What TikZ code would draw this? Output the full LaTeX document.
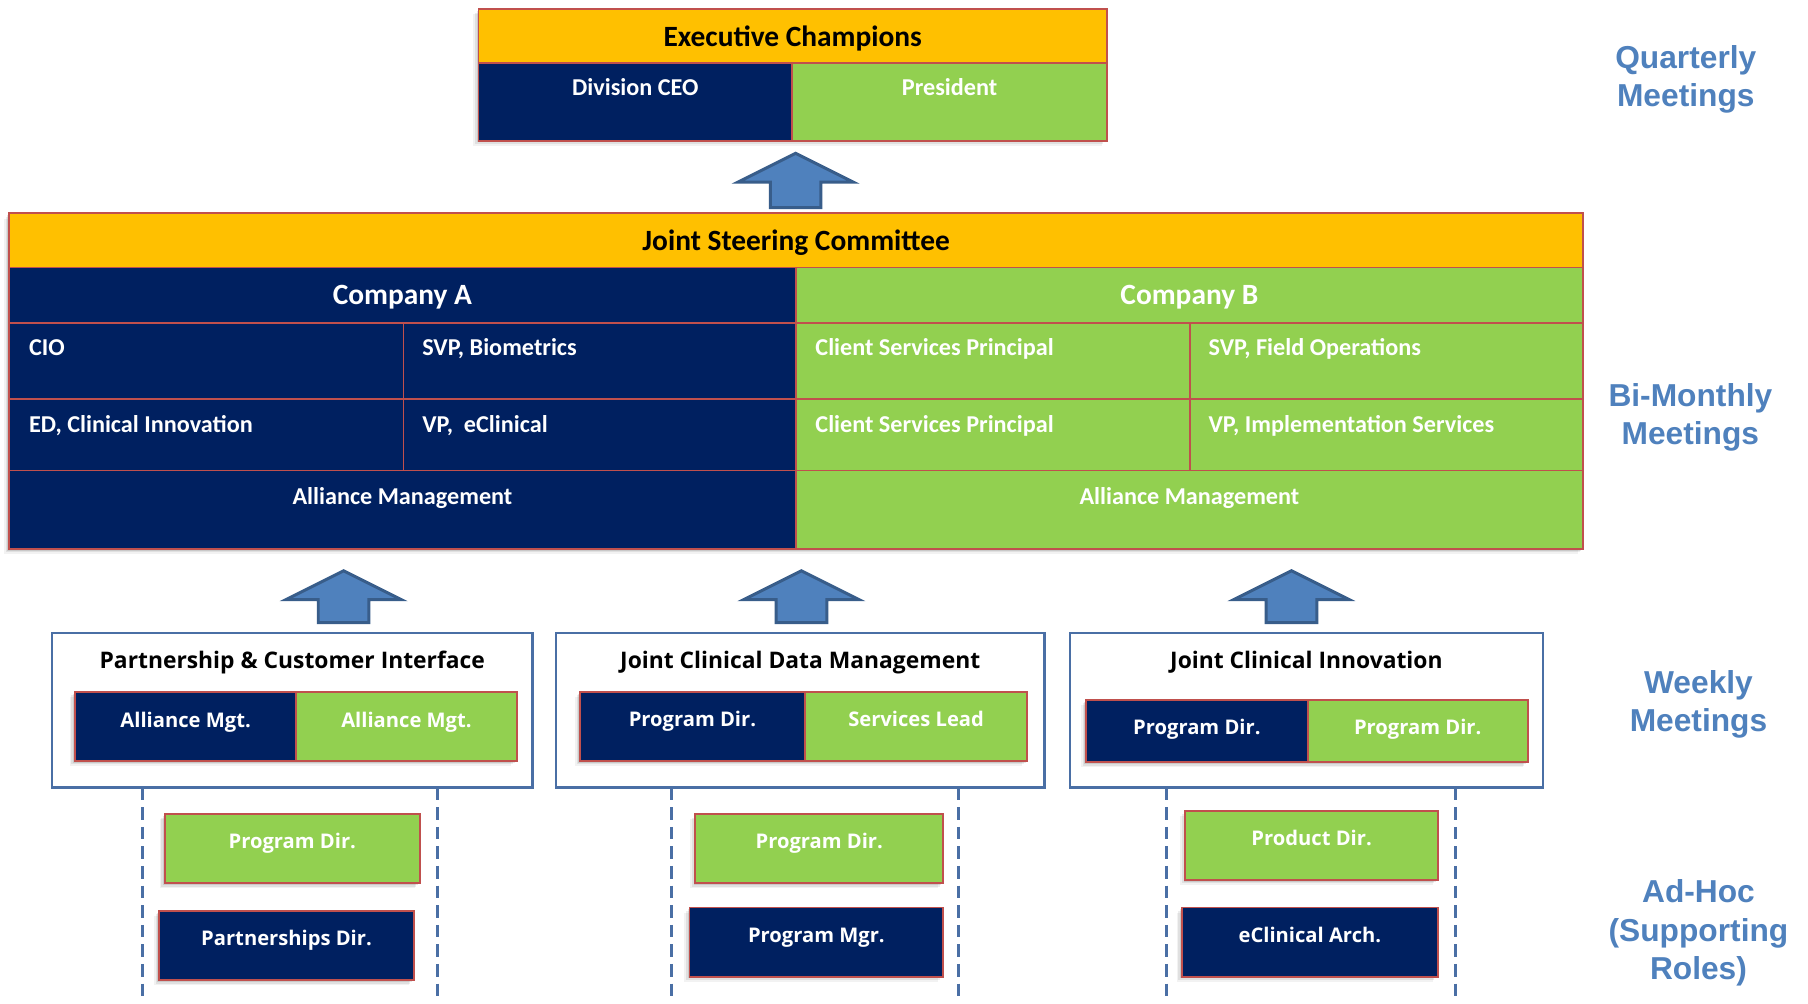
\documentclass[tikz,border=0pt]{standalone}
\usepackage{fontspec}
\usetikzlibrary{calc}
\newfontfamily\calfont{Carlito}
\newfontfamily\segfont{Open Sans}
\newfontfamily\arfont{Liberation Sans}
\definecolor{navy}{HTML}{002060}
\definecolor{lgreen}{HTML}{92D050}
\definecolor{gold}{HTML}{FFC000}
\definecolor{cellred}{HTML}{C0504D}
\definecolor{arrfill}{HTML}{4F81BD}
\definecolor{arrline}{HTML}{385D8A}
\definecolor{wkline}{HTML}{4A6FA5}
\definecolor{lblue}{HTML}{4F81BD}
\newcommand\mkcell[6]{\node[#6, anchor=north west, minimum width={(#4)-(#2)}, minimum height={(#5)-(#3)}] (#1) at (#2,#3) {};}
\newcommand\softshadow[4]{\foreach \o/\op in {1.5/0.10,3/0.07,4.5/0.05}{\fill[black,opacity=\op] ({#1-\o},{#2+\o}) rectangle ({#3-\o},{#4+\o});}}
\newcommand\uparr[5]{\draw[arrowshape] (#2,#3) -- ({#2+50},#4) -- ({#2+22},#4) -- ({#2+22},#5) -- ({#2-22},#5) -- ({#2-22},#4) -- ({#2-50},#4) -- cycle;}
\tikzset{
  base/.style={draw=cellred, line width=1.6pt, inner sep=0pt, outer sep=0pt},
  goldcell/.style={base, fill=gold},
  navycell/.style={base, fill=navy},
  greencell/.style={base, fill=lgreen},
  wkbox/.style={draw=wkline, line width=2.2pt, fill=white, inner sep=0pt, outer sep=0pt},
  hdtext/.style={font=\calfont\bfseries\fontsize{25.5}{30}\selectfont, text=black, inner sep=0pt},
  cotext/.style={font=\calfont\bfseries\fontsize{25.5}{30}\selectfont, text=white, inner sep=0pt},
  cltext/.style={font=\calfont\bfseries\fontsize{21}{25}\selectfont, text=white, inner sep=0pt},
  wktitle/.style={font=\segfont\bfseries\fontsize{19.8}{23}\selectfont, text=black, inner sep=0pt},
  wktext/.style={font=\segfont\bfseries\fontsize{17.5}{21}\selectfont, text=white, inner sep=0pt},
  sidelabel/.style={font=\arfont\bfseries\fontsize{27.5}{33}\selectfont, text=lblue, align=center, inner sep=0pt},
  arrowshape/.style={fill=arrfill, draw=arrline, line width=2.6pt, line join=miter},
  dashline/.style={draw=wkline, line width=2.6pt, dash pattern=on 11pt off 6pt}
}
\begin{document}
\begin{tikzpicture}[x=1pt,y=-1pt]
\useasboundingbox[fill=white] (0,0) rectangle (1568,870);

% ---------- Executive Champions ----------
\softshadow{415}{8}{960}{122}
\mkcell{exh}{415}{8}{960}{55}{goldcell}
\mkcell{ceo}{415}{55}{687}{122}{navycell}
\mkcell{pres}{687}{55}{960}{122}{greencell}
\node[hdtext, anchor=mid] (exh-t) at ($(exh.center)+(0,7)$) {Executive Champions};
\node[cltext, anchor=mid] (ceo-t) at ($(ceo.north)+(0,26)$) {Division CEO};
\node[cltext, anchor=mid] (pres-t) at ($(pres.north)+(0,26)$) {President};

\uparr{ar1}{690}{133}{158}{180}

% ---------- Joint Steering Committee ----------
\softshadow{8}{185}{1373}{476}
\mkcell{jsc}{8}{185}{1373}{232}{goldcell}
\mkcell{coa}{8}{232}{690}{280}{navycell}
\mkcell{cob}{690}{232}{1373}{280}{greencell}
\mkcell{a11}{8}{280}{350}{346}{navycell}
\mkcell{a12}{350}{280}{690}{346}{navycell}
\mkcell{b11}{690}{280}{1032}{346}{greencell}
\mkcell{b12}{1032}{280}{1373}{346}{greencell}
\mkcell{a21}{8}{346}{350}{408}{navycell}
\mkcell{a22}{350}{346}{690}{408}{navycell}
\mkcell{b21}{690}{346}{1032}{408}{greencell}
\mkcell{b22}{1032}{346}{1373}{408}{greencell}
\mkcell{aam}{8}{408}{690}{476}{navycell}
\mkcell{bam}{690}{408}{1373}{476}{greencell}
\node[hdtext, anchor=mid] (jsc-t) at ($(jsc.center)+(0,7)$) {Joint Steering Committee};
\node[cotext, anchor=mid] (coa-t) at ($(coa.center)+(0,6)$) {Company A};
\node[cotext, anchor=mid] (cob-t) at ($(cob.center)+(0,6)$) {Company B};
\node[cltext, anchor=mid west] (a11-t) at ($(a11.north west)+(17,26)$) {CIO};
\node[cltext, anchor=mid west] (a12-t) at ($(a12.north west)+(16,26)$) {SVP, Biometrics};
\node[cltext, anchor=mid west] (b11-t) at ($(b11.north west)+(17,26)$) {Client Services Principal};
\node[cltext, anchor=mid west] (b12-t) at ($(b12.north west)+(16,26)$) {SVP, Field Operations};
\node[cltext, anchor=mid west] (a21-t) at ($(a21.north west)+(17,27)$) {ED, Clinical Innovation};
\node[cltext, anchor=mid west] (a22-t) at ($(a22.north west)+(16,27)$) {VP,\ \ eClinical};
\node[cltext, anchor=mid west] (b21-t) at ($(b21.north west)+(17,27)$) {Client Services Principal};
\node[cltext, anchor=mid west] (b22-t) at ($(b22.north west)+(16,27)$) {VP, Implementation Services};
\node[cltext, anchor=mid] (aam-t) at ($(aam.north)+(0,27)$) {Alliance Management};
\node[cltext, anchor=mid] (bam-t) at ($(bam.north)+(0,27)$) {Alliance Management};

\uparr{ar2}{298}{495}{520}{540}
\uparr{ar3}{695}{495}{520}{540}
\uparr{ar4}{1120}{495}{520}{540}

% ---------- Weekly groups ----------
\mkcell{wk1}{45}{549}{462}{683}{wkbox}
\mkcell{wk2}{482}{549}{906}{683}{wkbox}
\mkcell{wk3}{928}{549}{1338}{683}{wkbox}
\node[wktitle, anchor=mid] (wk1-t) at ($(wk1.north)+(0,29)$) {Partnership \& Customer Interface};
\node[wktitle, anchor=mid] (wk2-t) at ($(wk2.north)+(0,29)$) {Joint Clinical Data Management};
\node[wktitle, anchor=mid] (wk3-t) at ($(wk3.north)+(0,29)$) {Joint Clinical Innovation};

\softshadow{65}{600}{448}{660}
\mkcell{p1a}{65}{600}{257}{660}{navycell}
\mkcell{p1b}{257}{600}{448}{660}{greencell}
\softshadow{503}{600}{891}{660}
\mkcell{p2a}{503}{600}{698}{660}{navycell}
\mkcell{p2b}{698}{600}{891}{660}{greencell}
\softshadow{942}{607}{1325}{661}
\mkcell{p3a}{942}{607}{1134}{661}{navycell}
\mkcell{p3b}{1134}{607}{1325}{661}{greencell}
\node[wktext, anchor=mid] (p1a-t) at ($(p1a.north)+(0,29)$) {Alliance Mgt.};
\node[wktext, anchor=mid] (p1b-t) at ($(p1b.north)+(0,29)$) {Alliance Mgt.};
\node[wktext, anchor=mid] (p2a-t) at ($(p2a.north)+(0,28)$) {Program Dir.};
\node[wktext, anchor=mid] (p2b-t) at ($(p2b.north)+(0,28)$) {Services Lead};
\node[wktext, anchor=mid] (p3a-t) at ($(p3a.north)+(0,28)$) {Program Dir.};
\node[wktext, anchor=mid] (p3b-t) at ($(p3b.north)+(0,28)$) {Program Dir.};

% ---------- Ad-hoc dashed columns ----------
\coordinate (d1a) at (124,683); \coordinate (d1ae) at (124,870);
\coordinate (d1b) at (379,683); \coordinate (d1be) at (379,870);
\coordinate (d2a) at (582,683); \coordinate (d2ae) at (582,870);
\coordinate (d2b) at (831,683); \coordinate (d2be) at (831,870);
\coordinate (d3a) at (1012,683); \coordinate (d3ae) at (1012,870);
\coordinate (d3b) at (1262,683); \coordinate (d3be) at (1262,870);
\foreach \d in {d1a,d1b,d2a,d2b,d3a,d3b}{\draw[dashline] (\d) -- (\d e);}

\softshadow{143}{706}{364}{766}
\mkcell{h1g}{143}{706}{364}{766}{greencell}
\softshadow{138}{790}{359}{850}
\mkcell{h1n}{138}{790}{359}{850}{navycell}
\softshadow{603}{706}{818}{766}
\mkcell{h2g}{603}{706}{818}{766}{greencell}
\softshadow{598}{787}{818}{847}
\mkcell{h2n}{598}{787}{818}{847}{navycell}
\softshadow{1028}{703}{1247}{763}
\mkcell{h3g}{1028}{703}{1247}{763}{greencell}
\softshadow{1025}{787}{1247}{847}
\mkcell{h3n}{1025}{787}{1247}{847}{navycell}
\node[wktext, anchor=mid] (h1g-t) at ($(h1g.north)+(0,28)$) {Program Dir.};
\node[wktext, anchor=mid] (h1n-t) at ($(h1n.north)+(0,28)$) {Partnerships Dir.};
\node[wktext, anchor=mid] (h2g-t) at ($(h2g.north)+(0,28)$) {Program Dir.};
\node[wktext, anchor=mid] (h2n-t) at ($(h2n.north)+(0,28)$) {Program Mgr.};
\node[wktext, anchor=mid] (h3g-t) at ($(h3g.north)+(0,28)$) {Product Dir.};
\node[wktext, anchor=mid] (h3n-t) at ($(h3n.north)+(0,28)$) {eClinical Arch.};

% ---------- Side labels ----------
\node[sidelabel] (lq) at (1462,69) {Quarterly\\Meetings};
\node[sidelabel] (lb) at (1466,362) {Bi-Monthly\\Meetings};
\node[sidelabel] (lw) at (1473,611) {Weekly\\Meetings};
\node[sidelabel] (la) at (1473,809) {Ad-Hoc\\(Supporting\\Roles)};
\end{tikzpicture}
\end{document}
